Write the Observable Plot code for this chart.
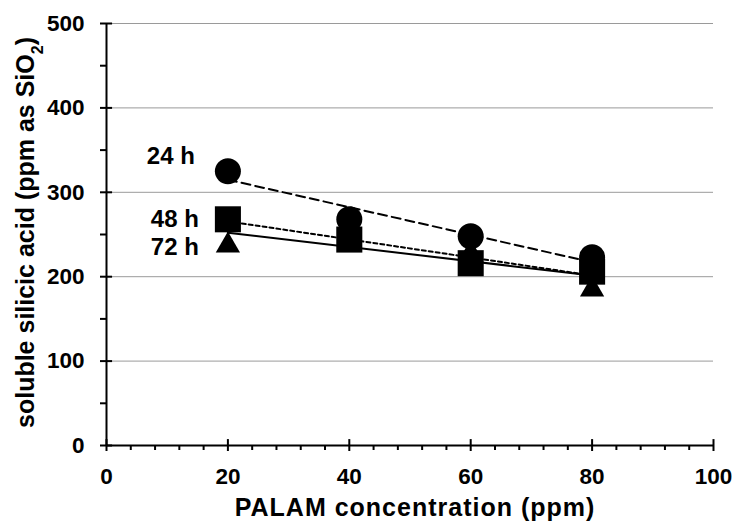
<!DOCTYPE html>
<html><head><meta charset="utf-8">
<script src="https://cdn.jsdelivr.net/npm/d3@7"></script>
<script src="https://cdn.jsdelivr.net/npm/@observablehq/plot@0.6"></script>
<style>html,body{margin:0;padding:0;background:#fff;}</style>
</head><body><div id="chart"></div>
<script>
const concentrations = [20, 40, 60, 80];
const seriesNames = ["24 h", "48 h", "72 h"];
const silica24h = [325, 268, 248, 223];
const silica48h = [268, 244, 216, 206];
const silica72h = [241, 245, 232, 189];
const xTickValues = [0, 20, 40, 60, 80, 100];
const xMinorTickValues = [4, 8, 12, 16, 24, 28, 32, 36, 44, 48, 52, 56, 64, 68, 72, 76, 84, 88, 92, 96];
const yTickValues = [0, 100, 200, 300, 400, 500];
const yGridValues = [100, 200, 300, 400, 500];
const yMinorTickValues = [50, 150, 250, 350, 450];
const xTitle = "PALAM concentration (ppm)";
const yTitleParts = ["soluble silicic acid (ppm as SiO", "2", ")"];

const makeRows = (vals, name) => concentrations.map((c, i) => ({conc: c, value: vals[i], series: name}));
const rows24 = makeRows(silica24h, seriesNames[0]);
const rows48 = makeRows(silica48h, seriesNames[1]);
const rows72 = makeRows(silica72h, seriesNames[2]);

const FONT = "'Liberation Sans', Arial, Helvetica, sans-serif";
const labelFont = {fontSize: 24, fontWeight: "bold", fontFamily: FONT, fill: "black"};
const titleFont = {fontSize: 25, fontWeight: "bold", fontFamily: FONT, fill: "black"};

const chart = Plot.plot({
  width: 735,
  height: 521,
  marginLeft: 106,
  marginRight: 22,
  marginTop: 23,
  marginBottom: 76,
  x: {domain: [0, 100]},
  y: {domain: [0, 500]},
  style: {fontFamily: FONT, fontWeight: "bold", fontSize: "22px", color: "black", background: "white", overflow: "visible"},
  marks: [
    Plot.gridY(yGridValues, {stroke: "#9a9a9a", strokeOpacity: 1, strokeWidth: 1}),
    Plot.ruleX([0], {stroke: "black", strokeWidth: 2}),
    Plot.ruleY([0], {stroke: "black", strokeWidth: 2}),
    Plot.axisY({ticks: yTickValues, tickSize: 6, tickPadding: 16, strokeWidth: 2, label: null, fontSize: 22.5, fontWeight: "bold"}),
    Plot.axisY({ticks: yMinorTickValues, tickSize: 6, tickFormat: () => "", strokeWidth: 2, label: null}),
    Plot.ruleY(yTickValues, {y: d => d, x1: 0, x2: 1, stroke: "black", strokeWidth: 2}),
    Plot.axisX({ticks: xTickValues, tickSize: 6, tickPadding: 17, strokeWidth: 2, label: null, fontSize: 22.5, fontWeight: "bold"}),
    Plot.axisX({ticks: xMinorTickValues, tickSize: 5, tickFormat: () => "", strokeWidth: 2, label: null}),
    Plot.ruleX(xTickValues, {x: d => d, y1: 0, y2: 7, stroke: "black", strokeWidth: 2}),

    Plot.linearRegressionY(rows24, {x: "conc", y: "value", stroke: "black", strokeWidth: 2, strokeDasharray: "9,5", ci: 0}),
    Plot.linearRegressionY(rows48, {x: "conc", y: "value", stroke: "black", strokeWidth: 2, strokeDasharray: "4,3", ci: 0}),
    Plot.linearRegressionY(rows72, {x: "conc", y: "value", stroke: "black", strokeWidth: 2, ci: 0}),

    Plot.dot(rows72, {x: "conc", y: "value", symbol: "triangle", r: 9, dy: 3.5, fill: "black", stroke: "none"}),
    Plot.dot(rows48, {x: "conc", y: "value", symbol: "square", r: 14.7, fill: "black", stroke: "none"}),
    Plot.dot(rows24, {x: "conc", y: "value", symbol: "circle", r: 13, fill: "black", stroke: "none"}),

    Plot.text([rows24[0]], {x: "conc", y: "value", text: "series", textAnchor: "end", dx: -33, dy: -15, ...labelFont}),
    Plot.text([rows48[0]], {x: "conc", y: "value", text: "series", textAnchor: "end", dx: -29, dy: 0, ...labelFont}),
    Plot.text([rows72[0]], {x: "conc", y: "value", text: "series", textAnchor: "end", dx: -29, dy: 5, ...labelFont}),

    Plot.text([xTitle], {frameAnchor: "bottom", lineAnchor: "middle", textAnchor: "middle", dx: 5, dy: 62, text: d => d, className: "xtitle", ...titleFont}),
    Plot.text([yTitleParts.join("")], {frameAnchor: "left", rotate: -90, textAnchor: "middle", lineAnchor: "middle", dx: -81, dy: -2, text: d => d, className: "ytitle", ...titleFont})
  ]
});

document.getElementById("chart").appendChild(chart);

d3.select(chart).select("g.xtitle text").style("letter-spacing", "1px");

// rebuild the y title with a real subscript
const yt = d3.select(chart).select("g.ytitle text");
if (!yt.empty()) {
  yt.text(null);
  yt.append("tspan").text(yTitleParts[0]);
  yt.append("tspan").attr("baseline-shift", "sub").attr("font-size", 16).text(yTitleParts[1]);
  yt.append("tspan").text(yTitleParts[2]);
}
</script>
</body></html>
